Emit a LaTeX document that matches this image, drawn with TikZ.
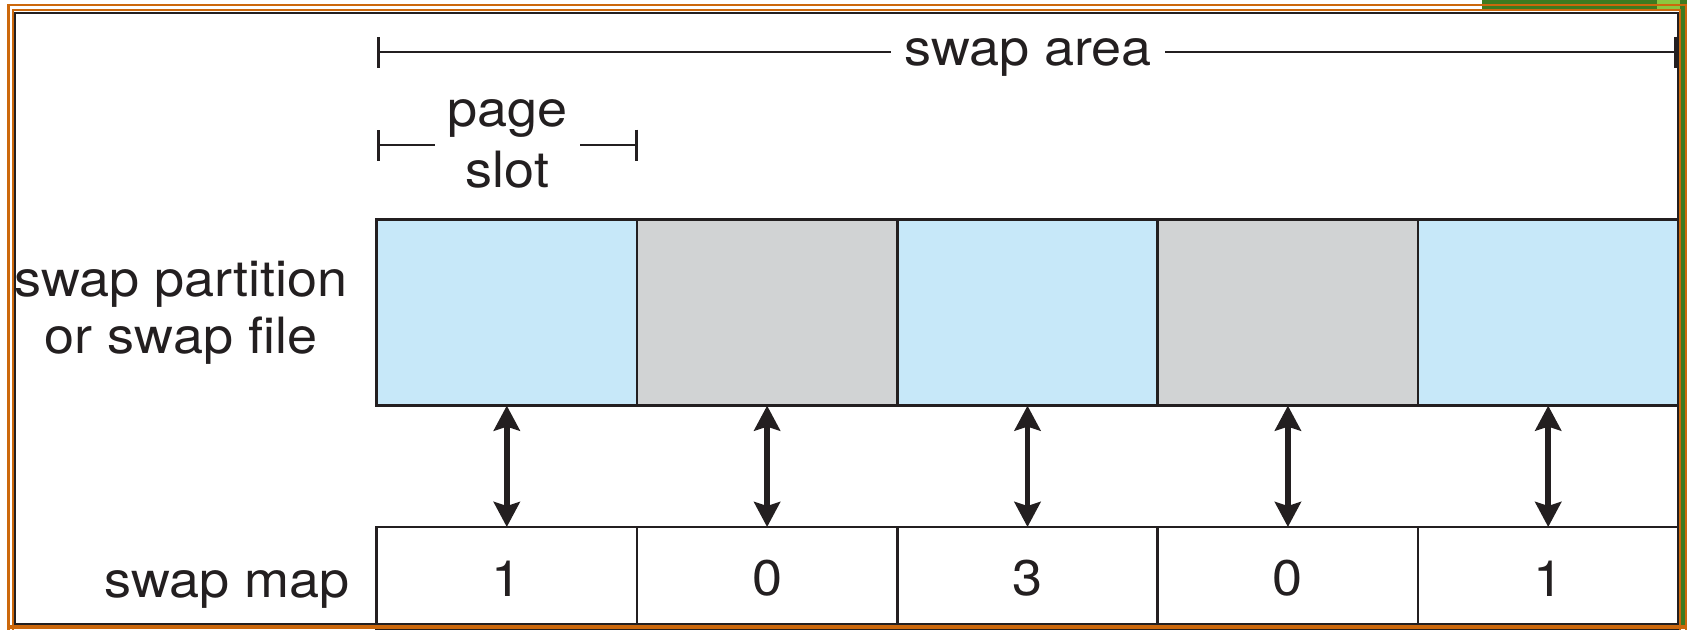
\documentclass[tikz,border=0pt]{standalone}
\usepackage{fontspec}
\setmainfont{TeX Gyre Heros}[FakeStretch=1.08]
\usetikzlibrary{arrows.meta}

\definecolor{slotblue}{RGB}{199,232,249}
\definecolor{slotgray}{RGB}{209,211,212}
\definecolor{inkgray}{RGB}{35,31,32}
\definecolor{frameorange}{RGB}{204,104,12}
\definecolor{slidegreen}{RGB}{62,122,32}
\definecolor{slidelime}{RGB}{141,198,63}

\newcommand{\bigfont}{\fontsize{37.5}{42.5}\selectfont}

\tikzset{every picture/.style={line width=0.75pt}}
\tikzset{
  slot/.style={draw=inkgray, line width=2pt, minimum width=195.27pt, minimum height=139.6pt, inner sep=0pt, outer sep=0pt},
  mapslot/.style={draw=inkgray, line width=2pt, minimum width=195.27pt, minimum height=77.25pt, inner sep=0pt, outer sep=0pt, text=inkgray, font=\bigfont},
  lbl/.style={text=inkgray, font=\bigfont, inner sep=0pt},
  link/.style={{Stealth[length=18.75pt,width=19.5pt,inset=3pt]}-{Stealth[length=18.75pt,width=19.5pt,inset=3pt]}, line width=4.4pt, draw=inkgray},
  span/.style={{Bar[width=23.25pt]}-, line width=2pt, draw=inkgray},
}

\begin{document}
\begin{tikzpicture}[x=0.75pt,y=0.75pt,yscale=-1,xscale=1]
\useasboundingbox (0,0) rectangle (1687,629);

%Shape: Rectangle [slide corner]
\fill[slidegreen] (1482,0) rectangle (1687,10);
\fill[slidelime] (1657,0) rectangle (1687,10);
\fill[slidegreen] (1680,0) rectangle (1687,629);

%Shape: Rectangle [swap partition slots]
\node[slot, fill=slotblue] (p1) at (506.8,312.55) {};
\node[slot, fill=slotgray] (p2) at (767.1,312.55) {};
\node[slot, fill=slotblue] (p3) at (1027.5,312.55) {};
\node[slot, fill=slotgray] (p4) at (1287.9,312.55) {};
\node[slot, fill=slotblue] (p5) at (1548.2,312.55) {};

%Shape: Rectangle [swap map slots]
\node[mapslot] (m1) at (506.8,578.5) {1};
\node[mapslot] (m2) at (767.1,578.5) {0};
\node[mapslot] (m3) at (1027.5,578.5) {3};
\node[mapslot] (m4) at (1287.9,578.5) {0};
\node[mapslot] (m5) at (1548.2,578.5) {1};

%Shape: Arrow [slot to map]
\draw[link] (p1.south) -- (m1.north);
\draw[link] (p2.south) -- (m2.north);
\draw[link] (p3.south) -- (m3.north);
\draw[link] (p4.south) -- (m4.north);
\draw[link] (p5.south) -- (m5.north);

% Text Node
\node[lbl, inner xsep=9.75pt, anchor=base] (swaparea) at (1028,65) {swap area};
\coordinate (areaL) at (377,52);
\coordinate (areaR) at (1677,52);
\draw[span] (areaL) -- (areaL -| swaparea.west);
\draw[span] (areaR) -- (areaR -| swaparea.east);

% Text Node
\node[lbl, inner xsep=8.6pt, align=center, font=\fontsize{37.5}{45.75}\selectfont] (pageslot) at (507.5,143.7) {page\\slot};
\coordinate (slotL) at (377,145);
\coordinate (slotR) at (638,145);
\draw[span] (slotL) -- (slotL -| pageslot.west);
\draw[span] (slotR) -- (slotR -| pageslot.east);

% Text Node
\node[lbl, align=center, anchor=base] (partlbl) at (181,353.3) {swap partition\\or swap file};
% Text Node
\node[lbl, anchor=base east] (maplbl) at (350,597) {swap map};

%Shape: Frame
\draw[frameorange, line width=2pt] (8.6,640) -- (8.6,5) -- (1686,5) -- (1686,640);
\draw[frameorange, line width=1.5pt] (13.4,640) -- (13.4,10.2) -- (1680,10.2) -- (1680,640);
\draw[inkgray, line width=1.5pt] (15.3,12.8) rectangle (1677.8,624);
\draw[frameorange, line width=3pt] (8,627) -- (1687,627);

\end{tikzpicture}
\end{document}
